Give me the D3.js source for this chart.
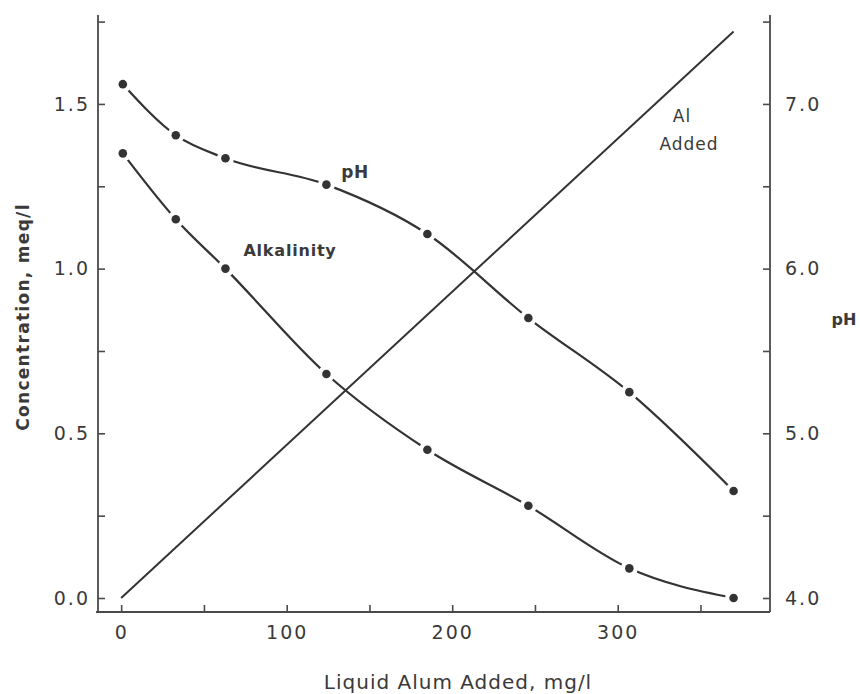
<!DOCTYPE html>
<html>
<head>
<meta charset="utf-8">
<script src="https://cdn.jsdelivr.net/npm/d3@7"></script>
<style>
  html, body { margin: 0; padding: 0; background: #fff; }
  svg { display: block; }
  text { font-family: "DejaVu Sans", sans-serif; fill: #3a3a3a; }
</style>
</head>
<body>
<svg id="chart" width="860" height="694"></svg>
<script>
// ---- data ----
const alumDose   = [1, 33, 63, 124, 185, 246, 307, 370];          // mg/l
const phValues   = [7.12, 6.81, 6.67, 6.51, 6.21, 5.70, 5.25, 4.65];
const alkValues  = [1.35, 1.15, 1.00, 0.68, 0.45, 0.28, 0.09, 0.00]; // meq/l
const alDose     = [0, 370];
const alValues   = [0, 1.72];                                       // meq/l

const xTicks      = [0, 50, 100, 150, 200, 250, 300, 350];
const xTickLabels = [0, 100, 200, 300];
const concTicks   = [0, 0.25, 0.5, 0.75, 1.0, 1.25, 1.5, 1.75];
const concLabels  = [0, 0.5, 1.0, 1.5];
const phTicks     = [4.0, 4.5, 5.0, 5.5, 6.0, 6.5, 7.0, 7.5];
const phLabels    = [4.0, 5.0, 6.0, 7.0];

// ---- scales ----
const svg = d3.select("#chart");
const x  = d3.scaleLinear().domain([-14, 392]).range([98, 770]);
const yC = d3.scaleLinear().domain([-0.0425, 1.77]).range([612, 15]);
const yP = d3.scaleLinear().domain([3.915, 7.54]).range([612, 15]);

const ink = "#333";
const axisInk = "#4a4a4a";

// ---- axes ----
const fmt1 = d3.format(".1f");
const leftAxis = d3.axisLeft(yC).tickValues(concTicks).tickSize(-7).tickPadding(8)
  .tickFormat(d => concLabels.some(v => Math.abs(v - d) < 1e-9) ? fmt1(d) : "");
const rightAxis = d3.axisRight(yP).tickValues(phTicks).tickSize(-7).tickPadding(15)
  .tickFormat(d => phLabels.some(v => Math.abs(v - d) < 1e-9) ? fmt1(d) : "");
const bottomAxis = d3.axisBottom(x).tickValues(xTicks).tickSize(-7).tickPadding(14)
  .tickFormat(d => xTickLabels.includes(d) ? d : "");

function styleAxis(g) {
  g.select(".domain").remove();
  g.selectAll(".tick line").attr("stroke", axisInk).attr("stroke-width", 1.6);
  g.selectAll(".tick text").style("font-family", "'DejaVu Sans', sans-serif")
    .style("font-size", "19px").style("letter-spacing", "2px").attr("fill", "#444");
}

svg.append("g").attr("transform", `translate(${x.range()[0]},0)`).call(leftAxis).call(styleAxis);
svg.append("g").attr("transform", `translate(${x.range()[1]},0)`).call(rightAxis).call(styleAxis);
svg.append("g").attr("transform", `translate(0,${yC.range()[0]})`).call(bottomAxis).call(styleAxis);

// frame lines (left, right, bottom)
const fr = svg.append("g").attr("stroke", axisInk).attr("stroke-width", 1.8).attr("fill", "none");
fr.append("line").attr("x1", x.range()[0]).attr("x2", x.range()[0]).attr("y1", yC.range()[1]).attr("y2", yC.range()[0]);
fr.append("line").attr("x1", x.range()[1]).attr("x2", x.range()[1]).attr("y1", yC.range()[1]).attr("y2", yC.range()[0]);
fr.append("line").attr("x1", x.range()[0] - 2).attr("x2", x.range()[1]).attr("y1", yC.range()[0]).attr("y2", yC.range()[0]);

// ---- Al added line ----
const alData = alDose.map((d, i) => [d, alValues[i]]);
svg.append("path")
  .attr("d", d3.line().x(d => x(d[0])).y(d => yC(d[1]))(alData))
  .attr("fill", "none").attr("stroke", ink).attr("stroke-width", 2);

// ---- curves ----
const phData  = alumDose.map((d, i) => [d, phValues[i]]);
const alkData = alumDose.map((d, i) => [d, alkValues[i]]);

svg.append("path")
  .attr("d", d3.line().curve(d3.curveMonotoneX).x(d => x(d[0])).y(d => yP(d[1]))(phData))
  .attr("fill", "none").attr("stroke", ink).attr("stroke-width", 2.2);
svg.append("path")
  .attr("d", d3.line().curve(d3.curveMonotoneX).x(d => x(d[0])).y(d => yC(d[1]))(alkData))
  .attr("fill", "none").attr("stroke", ink).attr("stroke-width", 2.2);

// gaps around points, then the points
function dots(data, ys) {
  svg.append("g").selectAll("circle").data(data).join("circle")
    .attr("cx", d => x(d[0])).attr("cy", d => ys(d[1])).attr("r", 8.5).attr("fill", "#fff");
  svg.append("g").selectAll("circle").data(data).join("circle")
    .attr("cx", d => x(d[0])).attr("cy", d => ys(d[1])).attr("r", 4.3).attr("fill", ink);
}
dots(phData, yP);
dots(alkData, yC);

// ---- labels ----
svg.append("text").attr("x", 355).attr("y", 178).attr("text-anchor", "middle")
  .style("font-size", "17px").style("font-weight", "bold").style("letter-spacing", "0.5px").text("pH");
svg.append("text").attr("x", 290).attr("y", 256).attr("text-anchor", "middle")
  .style("font-size", "16px").style("font-weight", "bold").style("letter-spacing", "0.8px").text("Alkalinity");
svg.append("text").attr("x", 682).attr("y", 122).attr("text-anchor", "middle")
  .style("font-size", "17px").style("letter-spacing", "1px").text("Al");
svg.append("text").attr("x", 689).attr("y", 150).attr("text-anchor", "middle")
  .style("font-size", "17px").style("letter-spacing", "1px").text("Added");

// axis titles
svg.append("text").attr("x", 458).attr("y", 689).attr("text-anchor", "middle")
  .style("font-size", "20px").style("letter-spacing", "1px").text("Liquid Alum Added, mg/l");
svg.append("text").attr("transform", "translate(29,317) rotate(-90)").attr("text-anchor", "middle")
  .style("font-size", "17px").style("font-weight", "bold").style("letter-spacing", "1.3px").text("Concentration,  meq/l");
svg.append("text").attr("x", 844).attr("y", 325).attr("text-anchor", "middle")
  .style("font-size", "16px").style("font-weight", "bold").text("pH");
</script>
</body>
</html>
